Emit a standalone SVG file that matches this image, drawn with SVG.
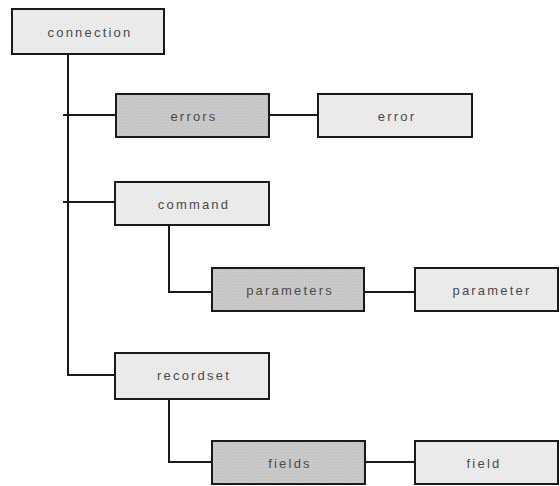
<svg xmlns="http://www.w3.org/2000/svg" width="560" height="486" viewBox="0 0 560 486">
  <defs>
    <!-- fine stipple for the plain object boxes -->
    <pattern id="light" width="4" height="4" patternUnits="userSpaceOnUse">
      <rect width="4" height="4" fill="#ececec"/>
      <rect x="0" y="0" width="1" height="1" fill="#dcdcdc"/>
      <rect x="2" y="2" width="1" height="1" fill="#dcdcdc"/>
    </pattern>
    <!-- darker dotted fill for the collection boxes -->
    <pattern id="dark" width="3" height="3" patternUnits="userSpaceOnUse">
      <rect width="3" height="3" fill="#c6c6c6"/>
      <rect x="1" y="1" width="1" height="1" fill="#d2d2d2"/>
    </pattern>
  </defs>
  <style>
    .box { stroke: #1a1a1a; stroke-width: 2; }
    .obj { fill: url(#light); }
    .col { fill: url(#dark); }
    .lbl { font-family: "Liberation Sans", Arial, sans-serif; font-size: 13px; letter-spacing: 2.2px; fill: #4a4a4a; text-anchor: middle; dominant-baseline: central; }
    .wire { fill: none; stroke: #1a1a1a; stroke-width: 2; }
  </style>

  <g id="connectors">
    <path class="wire" d="M68 54 V375 H115"/>
    <path class="wire" d="M63 115 H116"/>
    <path class="wire" d="M269 115 H318"/>
    <path class="wire" d="M63 202 H115"/>
    <path class="wire" d="M169 225 V292 H212"/>
    <path class="wire" d="M364 292 H415"/>
    <path class="wire" d="M169 399 V462 H212"/>
    <path class="wire" d="M365 462 H415"/>
  </g>

  <g id="connection">
    <rect class="box obj" x="12" y="9" width="152" height="45"/>
    <text class="lbl" x="90" y="32">connection</text>
  </g>
  <g id="errors">
    <rect class="box col" x="116" y="94" width="153" height="43"/>
    <text class="lbl" x="194" y="116">errors</text>
  </g>
  <g id="error">
    <rect class="box obj" x="318" y="94" width="154" height="43"/>
    <text class="lbl" x="397" y="116">error</text>
  </g>
  <g id="command">
    <rect class="box obj" x="115" y="182" width="154" height="43"/>
    <text class="lbl" x="194" y="204">command</text>
  </g>
  <g id="parameters">
    <rect class="box col" x="212" y="268" width="152" height="43"/>
    <text class="lbl" x="290" y="290">parameters</text>
  </g>
  <g id="parameter">
    <rect class="box obj" x="415" y="268" width="143" height="43"/>
    <text class="lbl" x="492" y="290">parameter</text>
  </g>
  <g id="recordset">
    <rect class="box obj" x="115" y="353" width="154" height="46"/>
    <text class="lbl" x="194" y="375">recordset</text>
  </g>
  <g id="fields">
    <rect class="box col" x="212" y="441" width="153" height="43"/>
    <text class="lbl" x="290" y="463">fields</text>
  </g>
  <g id="field">
    <rect class="box obj" x="415" y="441" width="143" height="43"/>
    <text class="lbl" x="484" y="463">field</text>
  </g>
</svg>
